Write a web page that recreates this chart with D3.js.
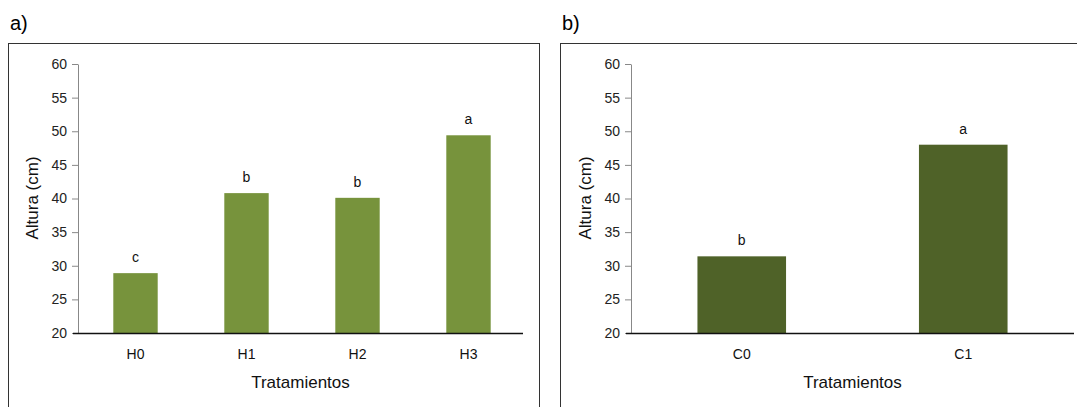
<!DOCTYPE html>
<html>
<head>
<meta charset="utf-8">
<script src="https://cdn.jsdelivr.net/npm/d3@7"></script>
<style>
  body { margin: 0; background: #fff; }
  svg { display: block; font-family: "Liberation Sans", Arial, sans-serif; }
</style>
</head>
<body>
<svg width="1077" height="407"></svg>
<script>
// panel a: height by treatment H
var catsA = ["H0", "H1", "H2", "H3"];
var valsA = [28.9, 40.8, 40.1, 49.4];
var lettersA = ["c", "b", "b", "a"];

// panel b: height by treatment C
var catsB = ["C0", "C1"];
var valsB = [31.4, 48.0];
var lettersB = ["b", "a"];

var yTicks = [20, 25, 30, 35, 40, 45, 50, 55, 60];

var svg = d3.select("svg");

function drawPanel(opt) {
    var g = svg.append("g");

    // frame around the panel
    g.append("rect")
        .attr("x", opt.box[0] + 0.5)
        .attr("y", opt.box[1] + 0.5)
        .attr("width", opt.box[2])
        .attr("height", opt.box[3])
        .style("fill", "none")
        .style("stroke", "#333")
        .style("stroke-width", "1px");

    g.append("text")
        .attr("x", opt.box[0] + 2)
        .attr("y", 30)
        .style("font-size", "20px")
        .style("fill", "#000")
        .text(opt.tag);

    var y = d3.scaleLinear().domain([20, 60]).range([333, 64]);
    var x = d3.scaleBand().domain(opt.cats).range(opt.band)
        .paddingInner(0.6).paddingOuter(0.3);

    var yAxis = g.append("g")
        .attr("transform", "translate(" + opt.x0 + ",0)")
        .call(d3.axisLeft(y).tickValues(yTicks).tickSize(6).tickSizeOuter(0).tickPadding(5));
    yAxis.select(".domain").style("stroke", "#888");
    yAxis.selectAll(".tick line").style("stroke", "#888");
    yAxis.selectAll("text")
        .style("font-family", "Liberation Sans, Arial, sans-serif")
        .style("font-size", "14px")
        .style("fill", "#222");

    g.selectAll(".bar")
        .data(opt.vals)
        .enter().append("rect")
        .attr("x", function(d, i) { return x(opt.cats[i]); })
        .attr("y", function(d) { return y(d); })
        .attr("width", x.bandwidth())
        .attr("height", function(d) { return y(20) - y(d); })
        .style("fill", opt.color);

    // baseline
    g.append("line")
        .attr("x1", opt.x0 - 5).attr("x2", opt.x1)
        .attr("y1", y(20) + 0.5).attr("y2", y(20) + 0.5)
        .style("stroke", "#111")
        .style("stroke-width", "1.3px");

    g.selectAll(".letter")
        .data(opt.vals)
        .enter().append("text")
        .attr("x", function(d, i) { return x(opt.cats[i]) + x.bandwidth() / 2; })
        .attr("y", function(d) { return y(d) - 11; })
        .attr("text-anchor", "middle")
        .style("font-size", "14px")
        .style("fill", "#111")
        .text(function(d, i) { return opt.letters[i]; });

    g.selectAll(".cat")
        .data(opt.cats)
        .enter().append("text")
        .attr("x", function(d) { return x(d) + x.bandwidth() / 2; })
        .attr("y", 359)
        .attr("text-anchor", "middle")
        .style("font-size", "14px")
        .style("fill", "#111")
        .text(function(d) { return d; });

    g.append("text")
        .attr("x", (opt.x0 + opt.x1) / 2)
        .attr("y", 388)
        .attr("text-anchor", "middle")
        .style("font-size", "17px")
        .style("fill", "#111")
        .text("Tratamientos");

    g.append("text")
        .attr("transform", "translate(" + (opt.x0 - 40) + ",198) rotate(-90)")
        .attr("text-anchor", "middle")
        .style("font-size", "17px")
        .style("fill", "#111")
        .text("Altura (cm)");
}

drawPanel({
    tag: "a)", box: [8, 43, 531, 380], x0: 78, x1: 523, band: [80, 524],
    cats: catsA, vals: valsA, letters: lettersA, color: "#77933c"
});
drawPanel({
    tag: "b)", box: [560, 43, 530, 380], x0: 631, x1: 1074, band: [631, 1074],
    cats: catsB, vals: valsB, letters: lettersB, color: "#4f6228"
});
</script>
</body>
</html>
